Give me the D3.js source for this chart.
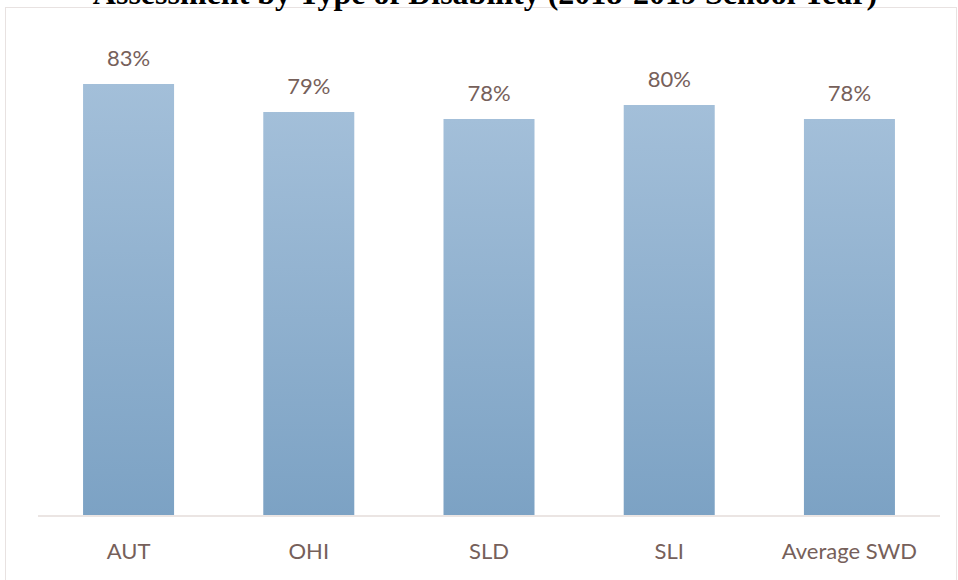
<!DOCTYPE html>
<html><head><meta charset="utf-8">
<script src="https://cdn.jsdelivr.net/npm/d3@7"></script>
<style>
html,body{margin:0;padding:0;background:#fff;}
svg{display:block;}
</style></head>
<body>
<script>
const categories = ["AUT", "OHI", "SLD", "SLI", "Average SWD"];
const values = [83, 79, 78, 80, 78];
const labels = ["83%", "79%", "78%", "80%", "78%"];
const title = "Assessment by Type of Disability (2018-2019 School Year)";

const W = 958, H = 580;
const svg = d3.select("body").append("svg").attr("width", W).attr("height", H);

const defs = svg.append("defs");
const grad = defs.append("linearGradient").attr("id", "barGrad")
  .attr("x1", 0).attr("y1", 0).attr("x2", 0).attr("y2", 1);
grad.append("stop").attr("offset", "0%").attr("stop-color", "#a3bfd9");
grad.append("stop").attr("offset", "100%").attr("stop-color", "#7ca2c4");

// chart frame
svg.append("rect").attr("x", 5.5).attr("y", 7.5).attr("width", 951).attr("height", 600)
  .attr("fill", "none").attr("stroke", "#e8e2e1").attr("stroke-width", 1);

const x = d3.scaleBand().domain(categories).range([38, 940]).paddingInner(0.495).paddingOuter(0.25);
const y = d3.scaleLinear().domain([21.3, 83]).range([516, 84]);

// bars
svg.selectAll("rect.bar").data(values).join("rect").attr("class", "bar")
  .attr("x", (d, i) => x(categories[i]))
  .attr("width", x.bandwidth())
  .attr("y", d => y(d))
  .attr("height", d => y.range()[0] - y(d))
  .attr("fill", "url(#barGrad)");

// x axis
const xAxis = d3.axisBottom(x).tickSize(0).tickPadding(0);
const gx = svg.append("g").attr("transform", "translate(0,516)").call(xAxis);
gx.select(".domain").attr("stroke", "#ebe5e3").attr("stroke-width", 2).attr("d", "M38,0H940");
gx.selectAll("text").attr("dy", null).attr("y", 43)
  .attr("font-family", "Lato, 'Open Sans', sans-serif").attr("font-size", 22)
  .attr("fill", "#76605a");

// value labels
svg.selectAll("text.val").data(values).join("text").attr("class", "val")
  .attr("x", (d, i) => x(categories[i]) + x.bandwidth() / 2)
  .attr("y", d => y(d) - 18)
  .attr("text-anchor", "middle")
  .attr("font-family", "Lato, 'Open Sans', sans-serif").attr("font-size", 22)
  .attr("fill", "#76605a")
  .text((d, i) => labels[i]);

// title (cropped at top, as in the reference)
svg.append("text").attr("x", 485).attr("y", 4).attr("text-anchor", "middle")
  .attr("font-family", "'Liberation Serif', 'Times New Roman', serif")
  .attr("font-weight", "bold").attr("font-size", 32).attr("fill", "#000")
  .text(title);
</script>
</body></html>
